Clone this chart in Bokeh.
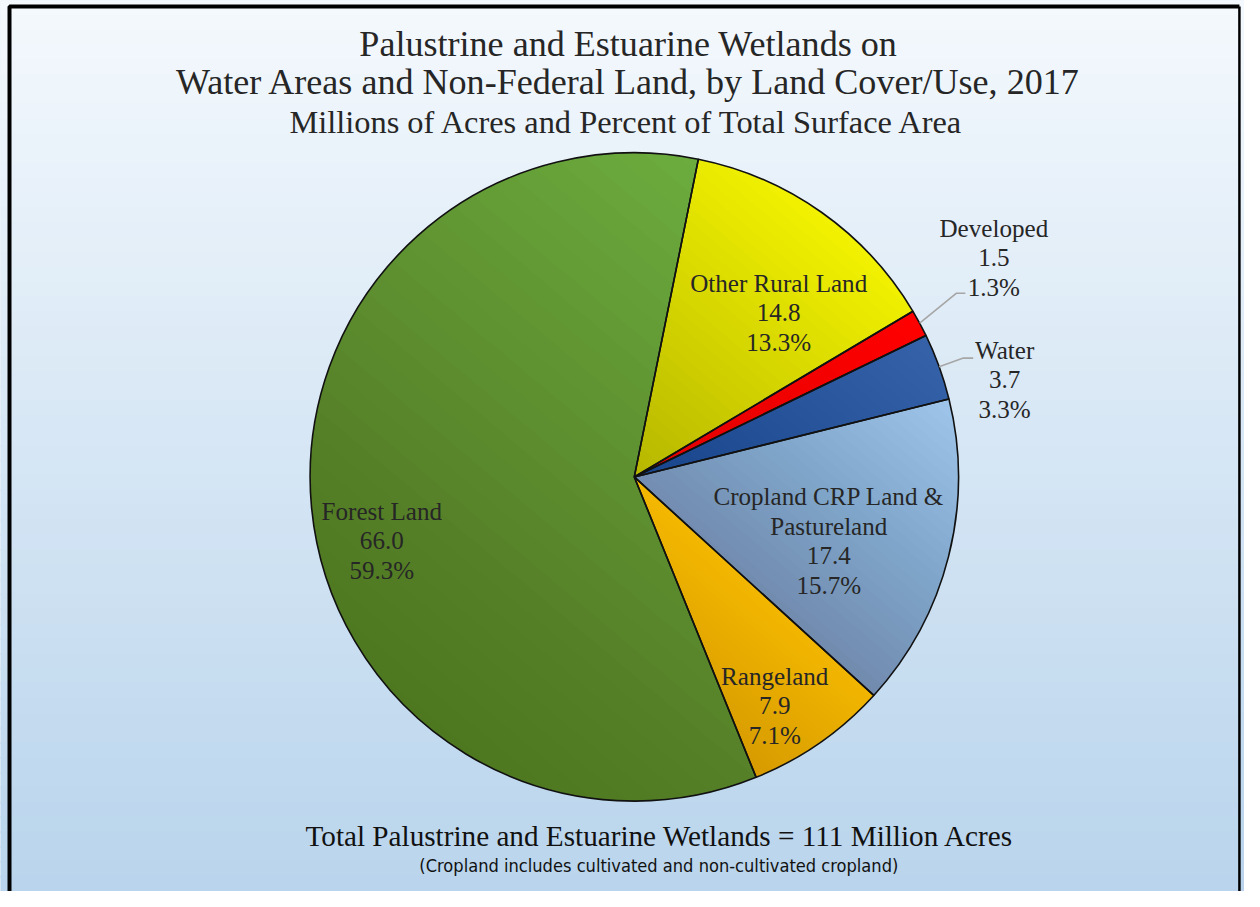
import numpy as np
from bokeh.plotting import figure
from bokeh.models import Range1d, ColumnDataSource
from bokeh.core.properties import value
from bokeh.embed import file_html
from bokeh.resources import INLINE

# ---------------- data ----------------
categories = ["Other Rural Land", "Developed", "Water",
              "Cropland CRP Land &\nPastureland", "Rangeland", "Forest Land"]
acres = [14.8, 1.5, 3.7, 17.4, 7.9, 66.0]
percent_labels = ["13.3%", "1.3%", "3.3%", "15.7%", "7.1%", "59.3%"]
slice_colors = ["#f2f200", "#ff0000", "#3562a8", "#9fc6ea", "#f4b800", "#6cac3e"]

title_lines = ["Palustrine and Estuarine Wetlands on",
               "Water Areas and Non-Federal Land, by Land Cover/Use, 2017",
               "Millions of Acres and Percent of Total Surface Area"]
total_text = "Total Palustrine and Estuarine Wetlands = 111 Million Acres"
note_text = "(Cropland includes cultivated and non-cultivated cropland)"

# ---------------- layout ----------------
W, H = 1244, 891
S = H / 907.0                      # reference px -> figure px scale
OX = (W - 1260 * S) / 2


def px(x, y):
    """reference-picture pixel -> data coordinate (1 data unit = 1 figure px)"""
    return x * S + OX, H - y * S


def fs(size):
    return "%.1fpx" % (size * S)


CX, CY = px(642, 485)
R = 330 * S
START_DEG = 11.4          # first slice starts 11.4 deg clockwise from 12 o'clock
SERIF = value("Liberation Serif")
TXT = "#262626"

# label anchor (centre of first line) in reference pixels
label_pos = [(789, 288), (1008, 232), (1019, 356), (840, 505), (785, 688), (385, 520)]
line_step = 30
# leader lines for outside labels: index -> (elbow, end) in reference pixels
leaders = {1: ((970, 298), (979, 298)), 2: ((977, 364), (987, 364))}

p = figure(width=W, height=H, x_range=Range1d(0, W), y_range=Range1d(0, H),
           output_backend="svg", toolbar_location=None, min_border=0)
p.axis.visible = False
p.grid.visible = False
p.outline_line_color = None
p.background_fill_color = "#dde9f5"
p.border_fill_color = "white"

# ---------------- background gradient ----------------
top_rgb = np.array([0xf5, 0xf9, 0xfd])
bot_rgb = np.array([0xb8, 0xd4, 0xec])
nb = 60
edges = np.linspace(H, 0, nb + 1)
bg_cols = []
for i in range(nb):
    f = (i + 0.5) / nb
    c = (top_rgb * (1 - f) + bot_rgb * f).round().astype(int)
    bg_cols.append("#%02x%02x%02x" % tuple(c))
p.quad(left=-2, right=W + 2, top=edges[:-1] + 1.0, bottom=edges[1:] - 1.0,
       fill_color=bg_cols, line_color=None)

# frame (left, top thick; right thin)
fl, ft = px(6, 6)
fr, fb = px(1258, 910)
p.line(x=[fl, fl, fr], y=[fb, ft, ft], line_color="black", line_width=4)
p.line(x=[fr, fr], y=[ft, fb], line_color="black", line_width=2.5)

# ---------------- pie ----------------
vals = np.array(acres)
total = vals.sum()
sweep = vals / total * 360.0
cum = np.concatenate([[0], np.cumsum(sweep)])
start_cw = START_DEG + cum[:-1]
end_cw = START_DEG + cum[1:]
mid_cw = (start_cw + end_cw) / 2
start_ang = np.radians(90 - start_cw)
end_ang = np.radians(90 - end_cw)

src = ColumnDataSource(dict(start=start_ang, end=end_ang, color=slice_colors,
                            name=categories, acres=acres))
p.wedge(x=CX, y=CY, radius=R, start_angle="start", end_angle="end",
        direction="clock", fill_color="color", line_color=None, source=src)

# per-slice shading: darker towards the lower-left of each slice
u = np.array([np.cos(np.radians(230)), np.sin(np.radians(230))])


def clip_half(poly, t):
    out = []
    n = len(poly)
    for i in range(n):
        P, Q = poly[i], poly[(i + 1) % n]
        dp, dq = P @ u - t, Q @ u - t
        if dp >= 0:
            out.append(P)
        if (dp >= 0) != (dq >= 0):
            r = dp / (dp - dq)
            out.append(P + r * (Q - P))
    return out


ns = 30
xs, ys, alphas = [], [], []
for i, (a0, a1) in enumerate(zip(start_ang, end_ang)):
    max_dark = 0.21 if acres[i] > 10 else 0.14
    alpha_each = 1 - (1 - max_dark) ** (1 / ns)
    th = np.linspace(a0, a1, 240)
    poly = [np.array([CX, CY])] + [np.array([CX + R * np.cos(t), CY + R * np.sin(t)]) for t in th]
    proj = [q @ u for q in poly]
    tmin, tmax = min(proj), max(proj)
    for k in range(ns):
        t = tmin + (tmax - tmin) * (k + 0.5) / ns
        cp = clip_half(poly, t)
        if len(cp) >= 3:
            xs.append([q[0] for q in cp])
            ys.append([q[1] for q in cp])
            alphas.append(alpha_each)
p.patches(xs, ys, fill_color="#0a1a30", fill_alpha=alphas, line_color=None)

# outlines on top
p.wedge(x=CX, y=CY, radius=R, start_angle="start", end_angle="end",
        direction="clock", fill_color=None, line_color="#111111",
        line_width=1.6, source=src)

# ---------------- slice labels ----------------
lx, ly, lt = [], [], []
for i, name in enumerate(categories):
    lines = name.split("\n") + ["%.1f" % acres[i], percent_labels[i]]
    ax, ay = label_pos[i]
    for j, s in enumerate(lines):
        x, y = px(ax, ay + j * line_step)
        lx.append(x)
        ly.append(y)
        lt.append(s)
p.text(x=lx, y=ly, text=lt, text_font=SERIF, text_font_size=fs(25.6),
       text_align="center", text_baseline="middle", text_color=TXT)

# leader lines
for i, (elbow, end) in leaders.items():
    m = np.radians(mid_cw[i])
    sx, sy = CX + R * np.sin(m), CY + R * np.cos(m)
    ex, ey = px(*elbow)
    fx, fy = px(*end)
    p.line(x=[sx, ex, fx], y=[sy, ey, fy], line_color="#a6a6a6", line_width=1.6)

# ---------------- titles & notes ----------------
title_pos = [(636, 44), (636, 83), (635, 124)]
title_sizes = [36.7, 36.7, 33.0]
for s, (x0, y0), sz in zip(title_lines, title_pos, title_sizes):
    tx, ty = px(x0, y0)
    p.text(x=[tx], y=[ty], text=[s], text_font=SERIF, text_font_size=fs(sz),
           text_align="center", text_baseline="middle", text_color=TXT)

tx, ty = px(668, 851)
p.text(x=[tx], y=[ty], text=[total_text], text_font=SERIF, text_font_size=fs(29.7),
       text_align="center", text_baseline="middle", text_color="#111111")
tx, ty = px(667, 881)
p.text(x=[tx], y=[ty], text=[note_text],
       text_font=value("'Liberation Sans Narrow', 'DejaVu Sans Condensed', sans-serif"),
       text_font_size=fs(18.4), text_align="center", text_baseline="middle",
       text_color="#111111")

open("out.html", "w").write(file_html(p, INLINE))
